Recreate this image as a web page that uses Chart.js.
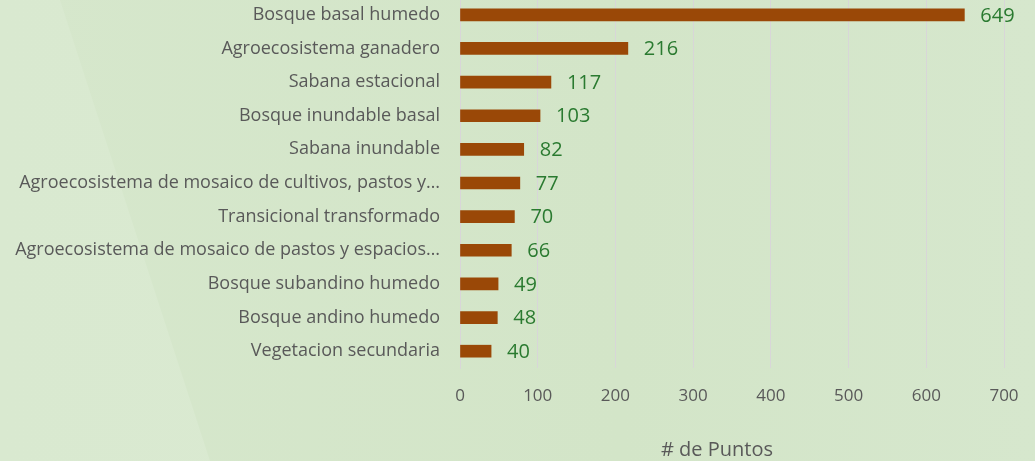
<!DOCTYPE html>
<html>
<head>
<meta charset="utf-8">
<script src="https://cdn.jsdelivr.net/npm/chart.js@4.4.0/dist/chart.umd.min.js"></script>
<style>
  html, body { margin: 0; padding: 0; }
  body {
    width: 1035px; height: 461px; overflow: hidden; position: relative;
    background: linear-gradient(90deg, #d6e7cc 0%, #d3e5c8 60%, #d6e7cd 100%);
  }
  /* franja diagonal clara del fondo */
  .franja {
    position: absolute; left: 0; top: 0; width: 1035px; height: 461px;
    background: linear-gradient(90deg, #d9e9d0 0%, #dcebd3 100%);
    clip-path: polygon(0 0, 60px 0, 210px 461px, 0 461px);
  }
  .wrap { position: absolute; left: 0; top: -2px; width: 1035px; height: 465px; }
</style>
</head>
<body>
<div class="franja"></div>
<div class="wrap"><canvas id="grafico" width="1035" height="465"></canvas></div>
<script>
// Puntos de muestreo por tipo de ecosistema

const ecosistemas = [
    'Bosque basal humedo',
    'Agroecosistema ganadero',
    'Sabana estacional',
    'Bosque inundable basal',
    'Sabana inundable',
    'Agroecosistema de mosaico de cultivos, pastos y…',
    'Transicional transformado',
    'Agroecosistema de mosaico de pastos y espacios…',
    'Bosque subandino humedo',
    'Bosque andino humedo',
    'Vegetacion secundaria'
];
const puntos = [649, 216, 117, 103, 82, 77, 70, 66, 49, 48, 40];
const ejeX = { min: 0, max: 700, paso: 100 };
const tituloEje = '# de Puntos';

const FUENTE = '"Open Sans", Lato, sans-serif';

// etiquetas de valor al final de cada barra y título del eje
const etiquetasValor = {
    id: 'etiquetasValor',
    afterDatasetsDraw(chart) {
        const ctx = chart.ctx;
        const meta = chart.getDatasetMeta(0);
        ctx.save();
        ctx.fillStyle = '#2a7a30';
        ctx.font = '20px ' + FUENTE;
        ctx.textAlign = 'left';
        ctx.textBaseline = 'middle';
        meta.data.forEach((bar, i) => {
            ctx.fillText(String(puntos[i]), bar.x + 16, bar.y + 1);
        });
        ctx.restore();
    },
    afterDraw(chart) {
        const ctx = chart.ctx;
        const area = chart.chartArea;
        ctx.save();
        ctx.fillStyle = '#595959';
        ctx.font = '20px ' + FUENTE;
        ctx.textAlign = 'center';
        ctx.textBaseline = 'middle';
        ctx.fillText(tituloEje, area.left + 257, 452);
        ctx.restore();
    }
};

new Chart(document.getElementById('grafico').getContext('2d'), {
    type: 'bar',
    data: {
        labels: ecosistemas,
        datasets: [{
            data: puntos,
            backgroundColor: '#9a4807',
            borderWidth: 0,
            barThickness: 12
        }]
    },
    options: {
        indexAxis: 'y',
        responsive: false,
        animation: false,
        layout: { padding: { top: 0, right: 31, left: 0, bottom: 0 } },
        plugins: {
            legend: { display: false },
            tooltip: { enabled: false }
        },
        scales: {
            x: {
                min: ejeX.min,
                max: ejeX.max,
                border: { display: false },
                grid: { color: '#d8d6d8', lineWidth: 1, drawTicks: false },
                ticks: {
                    stepSize: ejeX.paso,
                    color: '#595959',
                    font: { family: FUENTE, size: 17 },
                    padding: 18
                },
                afterFit(scale) {
                    scale.height = 95;
                    scale.paddingLeft = 0;
                    scale.paddingRight = 0;
                }
            },
            y: {
                border: { display: true, color: '#d8d6d8' },
                grid: { display: false, drawTicks: false },
                ticks: {
                    color: '#595959',
                    font: { family: FUENTE, size: 18 },
                    padding: 20,
                    autoSkip: false
                },
                afterFit(scale) {
                    scale.width = 460;
                    scale.paddingTop = 0;
                    scale.paddingBottom = 0;
                }
            }
        }
    },
    plugins: [etiquetasValor]
});
</script>
</body>
</html>
